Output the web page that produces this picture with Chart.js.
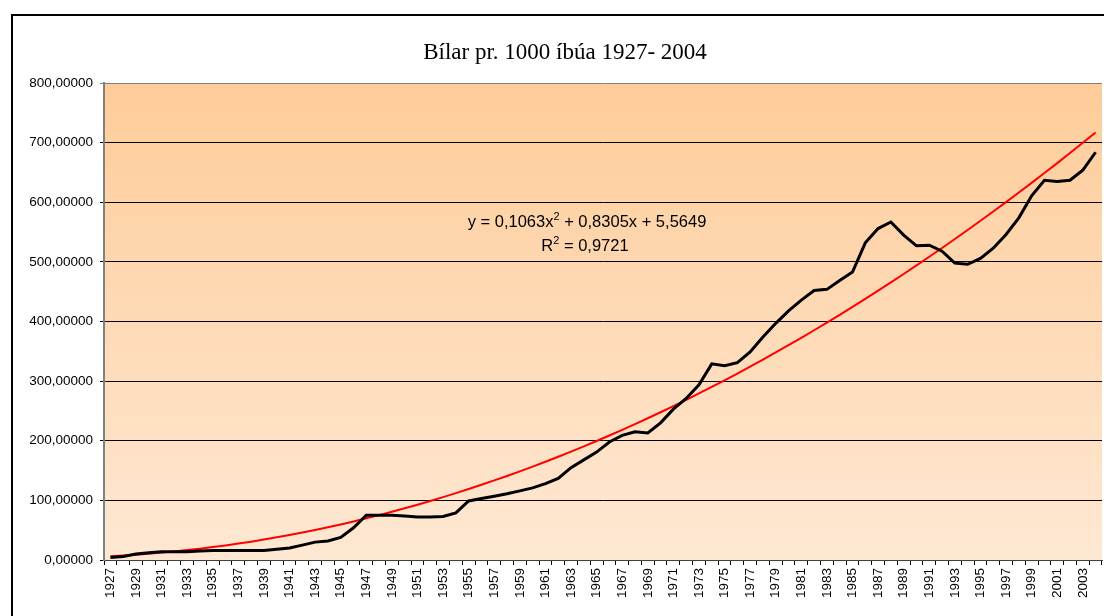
<!DOCTYPE html>
<html>
<head>
<meta charset="utf-8">
<script src="https://cdn.jsdelivr.net/npm/chart.js@4/dist/chart.umd.min.js"></script>
<style>
  body { margin: 0; background: #fff; overflow: hidden; }
  #frame { position: absolute; left: 11px; top: 14px; width: 1200px; height: 700px; border: 2px solid #000; box-sizing: border-box; }
  #chart { position: absolute; left: 0; top: 0; }
</style>
</head>
<body>
<div id="frame"></div>
<canvas id="chart" width="1104" height="616"></canvas>
<script>
// Data
const years = Array.from({ length: 78 }, (_, i) => String(1927 + i));

// cars per 1000 inhabitants (black line)
const carsPer1000 = [
  4, 6, 10, 12, 14, 14, 14, 15, 16, 16,          // 1927-1936
  16, 16, 16, 18, 20, 25, 30, 32, 38, 54,        // 1937-1946
  75, 75, 75, 74, 72, 72, 73, 79, 99, 103,       // 1947-1956
  107, 111, 116, 121, 128, 137, 155, 168, 181, 198, // 1957-1966
  209, 215, 213, 230, 253, 271, 294, 329, 326, 331, // 1967-1976
  349, 374, 397, 418, 436, 452, 454, 469, 483, 532, // 1977-1986
  556, 567, 545, 527, 528, 518, 498, 496, 506, 523, // 1987-1996
  546, 574, 611, 637, 635, 637, 654, 684          // 1997-2004
];

// polynomial trend line (red), as drawn in the picture
const trendLine = [
  6.5, 7.7, 9.0, 10.6, 12.4, 14.4, 16.6, 19.0, 21.7, 24.5,
  27.6, 30.8, 34.3, 38.0, 41.9, 46.1, 50.4, 55.0, 59.7, 64.7,
  69.9, 75.3, 80.9, 86.7, 92.8, 99.0, 105.5, 112.2, 119.1, 126.2,
  133.5, 141.0, 148.7, 156.7, 164.9, 173.2, 181.8, 190.6, 199.6, 208.9,
  218.3, 228.0, 237.8, 247.9, 258.2, 268.7, 279.4, 290.3, 301.5, 312.8,
  324.4, 336.2, 348.2, 360.4, 372.8, 385.4, 398.3, 411.3, 424.6, 438.1,
  451.8, 465.7, 479.8, 494.1, 508.7, 523.4, 538.4, 553.6, 569.0, 584.6,
  600.4, 616.4, 632.7, 649.1, 665.8, 682.7, 699.8, 717.1
];

const yTicks = [0, 100, 200, 300, 400, 500, 600, 700, 800];
const chartTitle = "Bílar pr. 1000 íbúa 1927- 2004";
const equationText = ["y = 0,1063x", "2", " + 0,8305x + 5,5649"];
const r2Text = ["R", "2", " = 0,9721"];

// plot area background gradient
const plotBackground = {
  id: "plotBackground",
  beforeDraw(chart) {
    const { ctx, chartArea: a } = chart;
    const g = ctx.createLinearGradient(0, a.top, 0, a.bottom);
    g.addColorStop(0, "#FECC99");
    g.addColorStop(1, "#FEE8D3");
    ctx.save();
    ctx.fillStyle = g;
    ctx.fillRect(a.left, a.top, a.right - a.left, a.bottom - a.top);
    ctx.restore();
  }
};

// draw text with superscript part
function drawSup(ctx, parts, cx, cy, size) {
  const big = size + "px 'Liberation Sans', Arial, sans-serif";
  const small = Math.round(size * 0.65) + "px 'Liberation Sans', Arial, sans-serif";
  ctx.font = big;
  const w0 = ctx.measureText(parts[0]).width;
  const w2 = ctx.measureText(parts[2]).width;
  ctx.font = small;
  const w1 = ctx.measureText(parts[1]).width;
  let x = cx - (w0 + w1 + w2) / 2;
  ctx.textBaseline = "alphabetic";
  ctx.textAlign = "left";
  ctx.fillStyle = "#000";
  ctx.font = big;
  ctx.fillText(parts[0], x, cy);
  x += w0;
  ctx.font = small;
  ctx.fillText(parts[1], x, cy - size * 0.42);
  x += w1;
  ctx.font = big;
  ctx.fillText(parts[2], x, cy);
}

const trendLabel = {
  id: "trendLabel",
  afterDatasetsDraw(chart) {
    const ctx = chart.ctx;
    ctx.save();
    drawSup(ctx, equationText, 587, 227, 16.5);
    drawSup(ctx, r2Text, 585, 251, 16.5);
    ctx.restore();
  }
};

const ctx = document.getElementById("chart").getContext("2d");
new Chart(ctx, {
  type: "line",
  data: {
    labels: years,
    datasets: [
      {
        label: "Bílar",
        data: carsPer1000,
        borderColor: "#000",
        borderWidth: 3,
        pointRadius: 0,
        tension: 0,
        fill: false
      },
      {
        label: "Trend",
        data: trendLine,
        borderColor: "#FF0000",
        borderWidth: 2,
        pointRadius: 0,
        tension: 0,
        fill: false
      }
    ]
  },
  options: {
    responsive: false,
    animation: false,
    devicePixelRatio: 1,
    layout: { padding: { left: 28, right: 2, top: 0, bottom: 0 } },
    plugins: {
      legend: { display: false },
      tooltip: { enabled: false },
      title: {
        display: true,
        text: chartTitle,
        color: "#000",
        font: { family: "'Liberation Serif', 'Times New Roman', serif", size: 23, weight: "normal" },
        padding: { top: 39, bottom: 16.5 }
      }
    },
    scales: {
      x: {
        offset: true,
        grid: { offset: true, drawOnChartArea: false, drawTicks: true, tickLength: 5, color: "#000" },
        border: { color: "#404040", width: 1 },
        ticks: {
          autoSkip: false,
          maxRotation: 90,
          minRotation: 90,
          padding: 3,
          color: "#000",
          font: { family: "'Liberation Sans', Arial, sans-serif", size: 13.5 },
          callback: (v, i) => (i % 2 === 0 ? years[i] : "")
        },
        afterFit: (s) => { s.height = 56; s.paddingLeft = 0; s.paddingRight = 0; }
      },
      y: {
        min: 0,
        max: 800,
        afterBuildTicks: (s) => { s.ticks = yTicks.map((v) => ({ value: v })); },
        grid: {
          color: (c) => (c.tick && c.tick.value === 800 ? "#808080" : "#000"),
          tickLength: 4
        },
        border: { color: "#808080", width: 2 },
        ticks: {
          padding: 7,
          color: "#000",
          font: { family: "'Liberation Sans', Arial, sans-serif", size: 13.5 },
          callback: (v) => v.toFixed(5).replace(".", ",")
        },
        afterFit: (s) => { s.width = 76; }
      }
    }
  },
  plugins: [plotBackground, trendLabel]
});
</script>
</body>
</html>
